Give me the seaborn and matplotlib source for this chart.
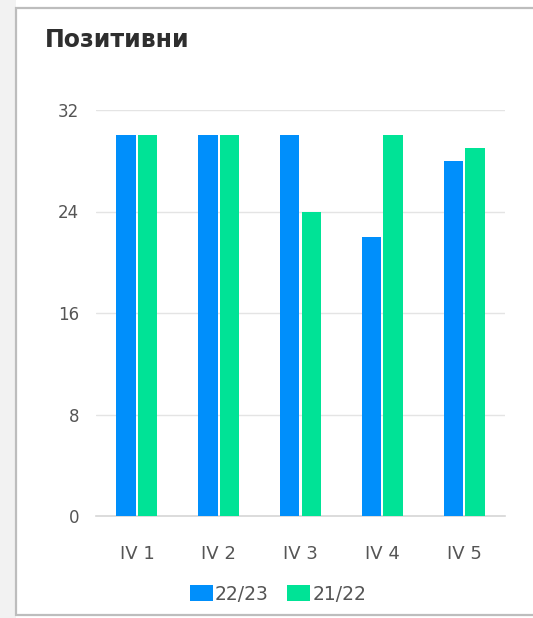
import matplotlib
matplotlib.use("Agg")
import matplotlib.pyplot as plt
import seaborn as sns
import pandas as pd
from matplotlib.patches import Rectangle, Patch

categories = ["IV 1", "IV 2", "IV 3", "IV 4", "IV 5"]
series_names = ["22/23", "21/22"]
values_2223 = [30, 30, 30, 22, 28]
values_2122 = [30, 30, 24, 30, 29]
yticks = [0, 8, 16, 24, 32]
colors = ["#008FFB", "#00E396"]
title = "Позитивни"

df = pd.DataFrame({
    "cat": categories * 2,
    "series": [series_names[0]] * len(categories) + [series_names[1]] * len(categories),
    "value": values_2223 + values_2122,
})

sns.set_theme(style="white")
plt.rcParams["font.family"] = ["DejaVu Sans"]

fig = plt.figure(figsize=(5.33, 6.18), dpi=100)
# card frame
bg = Rectangle((0, 0), 16 / 533, 1, transform=fig.transFigure,
               facecolor="#f2f2f2", edgecolor="none", zorder=-3)
card = Rectangle((16 / 533, 3 / 618), 1.2, 1 - 11 / 618, transform=fig.transFigure,
                 facecolor="white", edgecolor="#bdbdbd", linewidth=1.6, zorder=-2)
fig.patches.extend([bg, card])

ax = fig.add_axes([96 / 533, 1 - 516 / 618, 409 / 533, 406 / 618])
ax.set_facecolor("none")
sns.barplot(data=df, x="cat", y="value", hue="series", palette=colors,
            width=0.53, gap=0.1, ax=ax, legend=False, saturation=1, zorder=3)
for p in ax.patches:
    p.set_edgecolor("none")

ax.set_ylim(0, 32)
ax.set_yticks(yticks)
ax.set_yticklabels([str(v) for v in yticks])
ax.set_xlim(-0.5, len(categories) - 0.5)
ax.set_xlabel("")
ax.set_ylabel("")
for v in yticks[1:]:
    ax.axhline(v, color="#e4e4e4", linewidth=1, zorder=1)
for s in ["top", "right", "left"]:
    ax.spines[s].set_visible(False)
ax.spines["bottom"].set_color("#d6d6d6")
ax.spines["bottom"].set_linewidth(1.2)
ax.tick_params(axis="y", length=0, pad=12, labelsize=12, labelcolor="#555555")
ax.set_xticks([i - 0.5 for i in range(len(categories) + 1)], minor=True)
ax.tick_params(axis="x", which="minor", length=6, color="#d6d6d6", width=1.2, direction="out")
ax.tick_params(axis="x", which="major", length=0, pad=21, labelsize=13, labelcolor="#555555")

fig.text(45 / 533, 1 - 40 / 618, title, fontsize=17, fontweight="bold",
         color="#2e2e2e", va="center", ha="left")

handles = [Patch(facecolor=c, edgecolor="none") for c in colors]
fig.legend(handles, series_names, loc="center", bbox_to_anchor=(278 / 533, 1 - 594 / 618),
           ncol=2, frameon=False, fontsize=13.5, handlelength=1.2, handleheight=0.95,
           handletextpad=0.12, columnspacing=1.0, labelcolor="#555555")

fig.savefig("out.png", dpi=100)
